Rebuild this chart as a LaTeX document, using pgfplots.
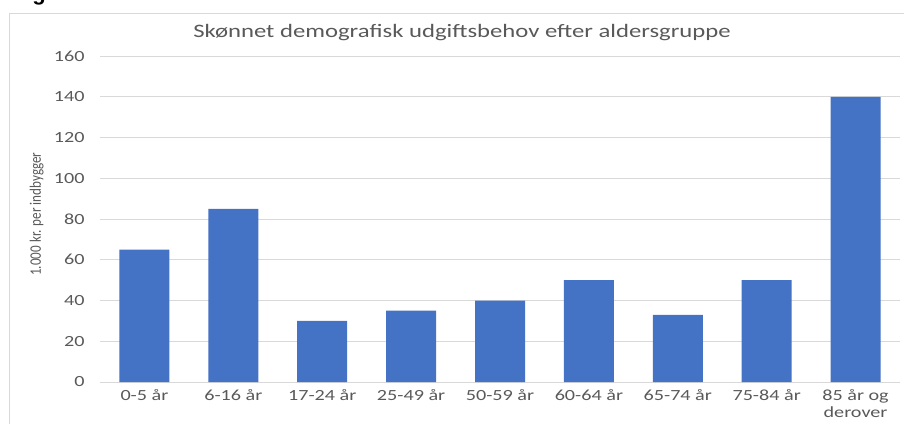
\documentclass[border=0pt]{standalone}
\usepackage{fontspec}
\setmainfont[FakeStretch=1.3]{Carlito}
\newfontfamily\ylabfont[FakeStretch=0.82]{Carlito}
\newfontfamily\headfont{Liberation Sans}
\usepackage{pgfplots}
\pgfplotsset{compat=1.18}
\definecolor{barblue}{HTML}{4472C4}
\definecolor{txtgrey}{HTML}{595959}
\definecolor{gridgrey}{HTML}{D9D9D9}
\begin{document}
\begin{tikzpicture}
\path[use as bounding box] (0pt,0pt) rectangle (904pt,424pt);
\draw[gridgrey, line width=1pt] (9pt,0pt) -- (9pt,410pt) -- (904pt,410pt);
\node[anchor=base, inner sep=0pt, font=\headfont\bfseries\fontsize{22}{24}\selectfont] at (39pt,423pt) {g};
\begin{axis}[
  at={(100pt,42pt)}, anchor=south west,
  scale only axis, width=800pt, height=326pt,
  ymin=0, ymax=160, ytick={0,20,...,160},
  xmin=-0.5, xmax=8.5,
  xtick={0,...,8},
  xticklabels={0-5 år,6-16 år,17-24 år,25-49 år,50-59 år,60-64 år,65-74 år,75-84 år,{85 år og\\derover}},
  xticklabel style={align=center, font=\fontsize{15.5}{16.5}\selectfont, text=txtgrey, anchor=north, yshift=-4pt},
  yticklabel style={font=\fontsize{15.5}{16.5}\selectfont, text=txtgrey, anchor=east, xshift=-12pt},
  /pgf/number format/assume math mode=true,
  major tick length=0pt,
  ymajorgrids, grid style={gridgrey, line width=1pt},
  axis x line*=bottom, axis y line*=left,
  x axis line style={gridgrey, line width=1pt, -},
  y axis line style={draw=none},
  ybar, bar width=50pt, bar shift=0pt,
  title={Skønnet demografisk udgiftsbehov efter aldersgruppe},
  title style={at={(rel axis cs:0.4525,1)}, anchor=center, yshift=17pt, font=\fontsize{19}{21}\selectfont, text=txtgrey},
  ylabel={1.000 kr. per indbygger},
  every axis y label/.style={at={(axis description cs:-0.079,0.515)}, rotate=90, anchor=center, font=\ylabfont\fontsize{16}{18}\selectfont, text=txtgrey},
]
\addplot[fill=barblue, draw=none] coordinates {(0,65) (1,85) (2,30) (3,35) (4,40) (5,50) (6,33) (7,50) (8,140)};
\end{axis}
\end{tikzpicture}
\end{document}
